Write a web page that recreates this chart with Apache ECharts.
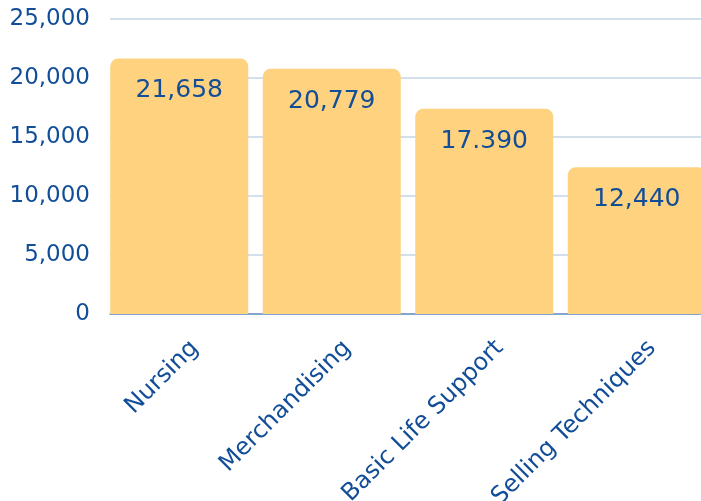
<!DOCTYPE html>
<html><head><meta charset="utf-8">
<script src="https://cdn.jsdelivr.net/npm/echarts@6/dist/echarts.min.js"></script>
<style>html,body{margin:0;padding:0;background:#fff;overflow:hidden}#c{width:701px;height:501px}</style>
</head><body><div id="c"></div>
<script>
const categories = ['Nursing', 'Merchandising', 'Basic Life Support', 'Selling Techniques'];
const values = [21658, 20779, 17390, 12440];
const valueLabels = ['21,658', '20,779', '17.390', '12,440'];
const yTicks = [0, 5000, 10000, 15000, 20000, 25000];

const blue = '#124e98';
const font = 'DejaVu Sans';
const yMin = yTicks[0], yMax = yTicks[yTicks.length - 1];
const chart = echarts.init(document.getElementById('c'), null, {renderer: 'canvas'});
chart.setOption({
  animation: false,
  grid: [
    {left: 103, top: 19, bottom: 187, width: 610, containLabel: false, outerBoundsMode: 'none'},
    {left: 110, top: 19, bottom: 187, right: 0, containLabel: false, outerBoundsMode: 'none'}
  ],
  xAxis: [{
    gridIndex: 0, type: 'category', data: categories,
    axisLine: {show: false}, axisTick: {show: false},
    axisLabel: {rotate: 45, interval: 0, color: blue, fontFamily: font, fontSize: 24,
      margin: 22, verticalAlign: 'top', padding: [5, -5, 0, 0]}
  }, {
    gridIndex: 1, type: 'category', data: categories,
    axisLine: {show: true, lineStyle: {color: '#6a93c7', width: 1.5}},
    axisTick: {show: false}, axisLabel: {show: false}
  }],
  yAxis: [{
    gridIndex: 0, type: 'value', min: yMin, max: yMax, interval: 5000, show: false,
    splitLine: {show: false}
  }, {
    gridIndex: 1, type: 'value', min: yMin, max: yMax, interval: 5000,
    axisLine: {show: false}, axisTick: {show: false},
    splitLine: {lineStyle: {color: '#c5d4e4', width: 1.5}},
    axisLabel: {color: blue, fontFamily: font, fontSize: 23, margin: 20,
      formatter: v => v.toLocaleString('en-US')}
  }],
  series: [{
    type: 'bar', xAxisIndex: 0, yAxisIndex: 0, data: values, barCategoryGap: '9.5%',
    itemStyle: {color: '#fed27f', borderRadius: [8, 8, 0, 0]},
    label: {show: true, position: 'insideTop', distance: 20, color: blue,
      fontFamily: font, fontSize: 25,
      formatter: p => valueLabels[p.dataIndex]}
  }]
});
</script></body></html>
